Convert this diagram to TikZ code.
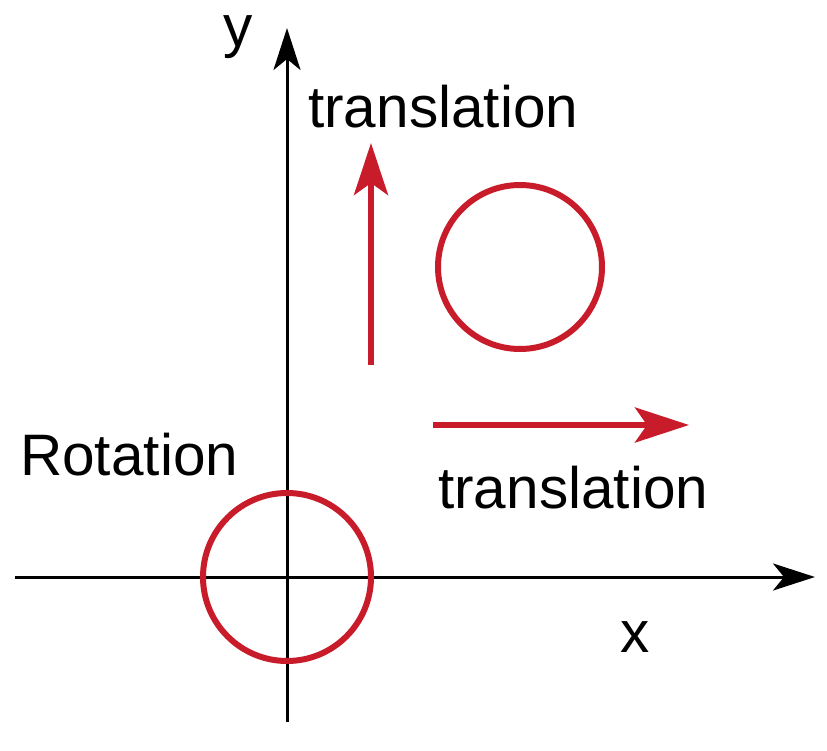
\documentclass[tikz,border=0pt]{standalone}
\usepackage{fontspec}
\setmainfont{Liberation Sans}
\usetikzlibrary{arrows.meta}
\definecolor{rtred}{RGB}{200,28,42}

\begin{document}
\begin{tikzpicture}[x=1pt,y=-1pt,every node/.style={font=\fontsize{58.5}{60}\selectfont,inner sep=0pt,anchor=base west}]
      \useasboundingbox (0,0) rectangle (827,751);
      % Axes
      \coordinate (xs) at (15,577);
      \coordinate (xe) at (815,577);
      \coordinate (ys) at (287,722);
      \coordinate (ye) at (287,28);
      \coordinate (o)  at (287,577);
      \draw[line width=3pt,-{Stealth[length=42pt,width=27pt,inset=11pt]}] (xs) -- (xe);
      \draw[line width=3pt,-{Stealth[length=42pt,width=27pt,inset=11pt]}] (ys) -- (ye);
      \node (ylab) at (223,47) {y};
      \node (xlab) at (620,652) {x};
      % Rotation
      \draw[rtred,line width=6pt] (o) circle[radius=84];
      \node (rot) at (20,475) {Rotation};
      % Translated circle
      \coordinate (c) at (520,267);
      \draw[rtred,line width=6pt] (c) circle[radius=82];
      % Translation arrows
      \coordinate (vs) at (371,365);
      \coordinate (ve) at (371,143);
      \coordinate (hs) at (433,425);
      \coordinate (he) at (689,425);
      \draw[rtred,line width=5.5pt,-{Stealth[length=52pt,width=34pt,inset=12pt]}] (vs) -- (ve);
      \draw[rtred,line width=5.5pt,-{Stealth[length=54pt,width=35pt,inset=12pt]}] (hs) -- (he);
      \node (tup) at (308,128) {translation};
      \node (tdn) at (438,508) {translation};
    \end{tikzpicture}
\end{document}
